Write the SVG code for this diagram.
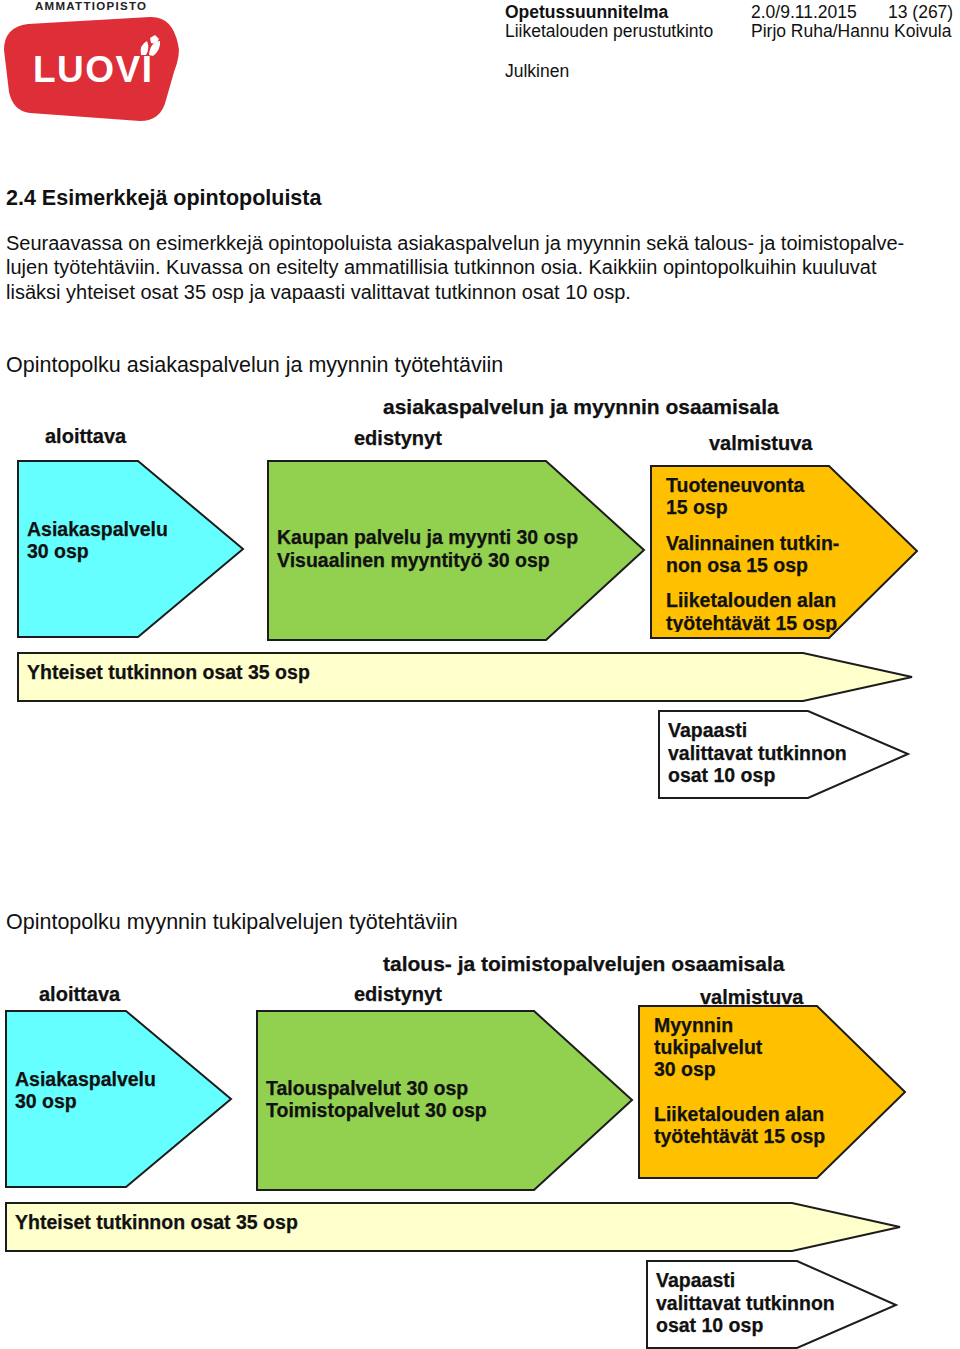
<svg xmlns="http://www.w3.org/2000/svg" width="960" height="1349" viewBox="0 0 960 1349">
<style>
text{font-family:"Liberation Sans",Arial,sans-serif;fill:#111}
.h{font-size:17.5px}
.hb{font-size:17.5px;font-weight:bold}
.b{font-size:20px}
.t{font-size:21.5px}
.s{font-size:20px;font-weight:bold;stroke:#111;stroke-width:.25}
.n{font-size:19.5px;font-weight:bold;stroke:#111;stroke-width:.25}
.a{stroke:#1c1c1c;stroke-width:2;stroke-linejoin:miter}
</style>
<defs><clipPath id="clip1"><rect x="640" y="466" width="280" height="166"/></clipPath></defs>
<g id="logo">
<text x="35" y="10" style="font-size:11.5px;font-weight:bold;letter-spacing:1.3px;fill:#222">AMMATTIOPISTO</text>
<path d="M28 24L150 17Q172 16 178 44Q181 54 174 72L166 100Q161 121 140 121L30 113Q13 111 9 92L4 50Q4 27 28 24Z" fill="#de2f38"/>
<text x="33" y="82" style="font-size:37px;font-weight:bold;letter-spacing:1.5px;fill:#fff">LUOVI</text>
<path d="M141 55Q139 45 147 41Q150 48 146 55Z M149 55Q150 42 160 41Q161 50 153 56Z M150 38L155 35L159 39L156 44L151 43Z" fill="#fff"/>
</g>
<g id="header">
<text x="505" y="18" class="hb">Opetussuunnitelma</text>
<text x="505" y="37" class="h">Liiketalouden perustutkinto</text>
<text x="505" y="77" class="h">Julkinen</text>
<text x="751" y="18" class="h">2.0/9.11.2015</text>
<text x="888" y="18" class="h">13 (267)</text>
<text x="751" y="37" class="h">Pirjo Ruha/Hannu Koivula</text>
</g>
<g id="intro">
<text x="6" y="205" class="t" style="font-weight:bold">2.4 Esimerkkejä opintopoluista</text>
<text x="6" y="250" class="b">Seuraavassa on esimerkkejä opintopoluista asiakaspalvelun ja myynnin sekä talous- ja toimistopalve-</text>
<text x="6" y="274" class="b">lujen työtehtäviin. Kuvassa on esitelty ammatillisia tutkinnon osia. Kaikkiin opintopolkuihin kuuluvat</text>
<text x="6" y="299" class="b">lisäksi yhteiset osat 35 osp ja vapaasti valittavat tutkinnon osat 10 osp.</text>
</g>
<g id="path1-labels">
<text x="6" y="372" class="t">Opintopolku asiakaspalvelun ja myynnin työtehtäviin</text>
<text x="383" y="414" class="s" style="font-size:21px">asiakaspalvelun ja myynnin osaamisala</text>
<text x="45" y="443" class="s">aloittava</text>
<text x="354" y="445" class="s">edistynyt</text>
<text x="709" y="450" class="s">valmistuva</text>
</g>
<g id="n1-aloittava">
<polygon class="a" points="18,461 138,461 243,549 138,637 18,637" fill="#66ffff"/>
<text class="n" x="27" y="536">Asiakaspalvelu</text>
<text class="n" x="27" y="558">30 osp</text>
</g>
<g id="n1-edistynyt">
<polygon class="a" points="268,461 546,461 644,550 546,640 268,640" fill="#92d050"/>
<text class="n" x="277" y="544">Kaupan palvelu ja myynti 30 osp</text>
<text class="n" x="277" y="567">Visuaalinen myyntityö 30 osp</text>
</g>
<g id="n1-valmistuva">
<polygon class="a" points="651,466 829,466 917,551 829,638 651,638" fill="#ffc000"/>
<text class="n" x="666" y="492">Tuoteneuvonta</text>
<text class="n" x="666" y="514">15 osp</text>
<text class="n" x="666" y="550">Valinnainen tutkin-</text>
<text class="n" x="666" y="572">non osa 15 osp</text>
<text class="n" x="666" y="607">Liiketalouden alan</text>
<text class="n" x="666" y="630" clip-path="url(#clip1)">työtehtävät 15 osp</text>
</g>
<g id="n1-yhteiset">
<polygon class="a" points="18,653 803,653 912,677 803,701 18,701" fill="#ffffcc"/>
<text class="n" x="27" y="679">Yhteiset tutkinnon osat 35 osp</text>
</g>
<g id="n1-vapaasti">
<polygon class="a" points="659,711 808,711 908,754 808,798 659,798" fill="#fff"/>
<text class="n" x="668" y="737">Vapaasti</text>
<text class="n" x="668" y="760">valittavat tutkinnon</text>
<text class="n" x="668" y="782">osat 10 osp</text>
</g>
<g id="path2-labels">
<text x="6" y="929" class="t">Opintopolku myynnin tukipalvelujen työtehtäviin</text>
<text x="383" y="971" class="s" style="font-size:21px">talous- ja toimistopalvelujen osaamisala</text>
<text x="39" y="1001" class="s">aloittava</text>
<text x="354" y="1001" class="s">edistynyt</text>
<text x="700" y="1004" class="s">valmistuva</text>
</g>
<g id="n2-aloittava">
<polygon class="a" points="6,1011 126,1011 231,1099 126,1187 6,1187" fill="#66ffff"/>
<text class="n" x="15" y="1086">Asiakaspalvelu</text>
<text class="n" x="15" y="1108">30 osp</text>
</g>
<g id="n2-edistynyt">
<polygon class="a" points="257,1011 534,1011 632,1100 534,1190 257,1190" fill="#92d050"/>
<text class="n" x="266" y="1095">Talouspalvelut 30 osp</text>
<text class="n" x="266" y="1117">Toimistopalvelut 30 osp</text>
</g>
<g id="n2-valmistuva">
<polygon class="a" points="639,1006 817,1006 905,1092 817,1178 639,1178" fill="#ffc000"/>
<text class="n" x="654" y="1032">Myynnin</text>
<text class="n" x="654" y="1054">tukipalvelut</text>
<text class="n" x="654" y="1076">30 osp</text>
<text class="n" x="654" y="1121">Liiketalouden alan</text>
<text class="n" x="654" y="1143">työtehtävät 15 osp</text>
</g>
<g id="n2-yhteiset">
<polygon class="a" points="6,1203 792,1203 900,1227 792,1251 6,1251" fill="#ffffcc"/>
<text class="n" x="15" y="1229">Yhteiset tutkinnon osat 35 osp</text>
</g>
<g id="n2-vapaasti">
<polygon class="a" points="647,1261 797,1261 896,1305 797,1348 647,1348" fill="#fff"/>
<text class="n" x="656" y="1287">Vapaasti</text>
<text class="n" x="656" y="1310">valittavat tutkinnon</text>
<text class="n" x="656" y="1332">osat 10 osp</text>
</g>
<g id="connectors"/>
</svg>
